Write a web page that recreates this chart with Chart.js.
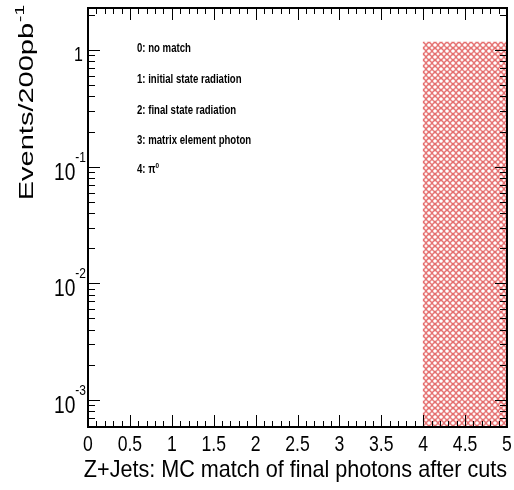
<!DOCTYPE html>
<html>
<head>
<meta charset="utf-8">
<script src="https://cdn.jsdelivr.net/npm/chart.js@4/dist/chart.umd.min.js"></script>
<style>
  html, body { margin: 0; padding: 0; background: #fff; }
</style>
</head>
<body>
<canvas id="histo" width="514" height="490"></canvas>
<script>
// histogram bins (MC match category) and their content
var binLabels = ['0', '1', '2', '3', '4'];
var binCounts = [null, null, null, null, 1.17];

// axis ticks
var xTickLabels = ['0', '0.5', '1', '1.5', '2', '2.5', '3', '3.5', '4', '4.5', '5'];
var yDecades = [-3, -2, -1, 0];

// texts
var legendLines = ['0: no match', '1: initial state radiation', '2: final state radiation', '3: matrix element photon', '4: \u03c0'];
var xTitle = 'Z+Jets: MC match of final photons after cuts';
var yTitle = 'Events/200pb';

var FONT = '"Liberation Sans", Arial, Helvetica, sans-serif';

// ROOT fill style: small red circles
function makeHatch() {
    var c = document.createElement('canvas');
    c.width = 6;
    c.height = 6;
    var g = c.getContext('2d');
    g.strokeStyle = 'rgb(226, 96, 96)';
    g.lineWidth = 1.1;
    g.beginPath();
    g.arc(3, 3, 2.4, 0, Math.PI * 2);
    g.stroke();
    return g.createPattern(c, 'repeat');
}

// draw text squeezed horizontally (the original picture is squeezed)
function squeezedText(ctx, txt, x, y, font, sx, align) {
    ctx.save();
    ctx.font = font;
    ctx.textAlign = align || 'left';
    ctx.translate(x, y);
    ctx.scale(sx, 1);
    ctx.fillText(txt, 0, 0);
    ctx.restore();
}

var rootFrame = {
    id: 'rootFrame',
    afterDraw: function (chart) {
        var ctx = chart.ctx;
        var xs = chart.scales.xv;
        var ys = chart.scales.y;
        var a = chart.chartArea;
        ctx.save();
        ctx.fillStyle = '#000';
        ctx.strokeStyle = '#000';
        ctx.textBaseline = 'alphabetic';

        // ticks on x (bottom and top, pointing inside)
        ctx.lineWidth = 1;
        ctx.beginPath();
        for (var i = 0; i <= 50; i++) {
            var v = i / 10;
            var px = Math.round(xs.getPixelForValue(v)) + 0.5;
            var len = (i % 5 === 0) ? 12 : 6;
            ctx.moveTo(px, a.bottom);
            ctx.lineTo(px, a.bottom - len);
            ctx.moveTo(px, a.top);
            ctx.lineTo(px, a.top + len);
        }
        // ticks on y (log, left and right)
        for (var d = -4; d <= 0; d++) {
            for (var m = 1; m <= 9; m++) {
                var val = m * Math.pow(10, d);
                if (val < ys.min || val > ys.max) continue;
                var py = Math.round(ys.getPixelForValue(val)) + 0.5;
                var l = (m === 1) ? 12 : 7;
                ctx.moveTo(a.left, py);
                ctx.lineTo(a.left + l, py);
                ctx.moveTo(a.right, py);
                ctx.lineTo(a.right - l, py);
            }
        }
        ctx.stroke();

        // frame
        ctx.lineWidth = 2;
        ctx.strokeRect(a.left, a.top, a.right - a.left, a.bottom - a.top);

        // x tick labels
        xTickLabels.forEach(function (t) {
            var px = xs.getPixelForValue(parseFloat(t));
            squeezedText(ctx, t, px, a.bottom + 24, '22px ' + FONT, 0.8, 'center');
        });

        // y tick labels
        yDecades.forEach(function (e) {
            var py = ys.getPixelForValue(Math.pow(10, e));
            if (e === 0) {
                squeezedText(ctx, '1', a.left - 5, py + 11, '20px ' + FONT, 0.8, 'right');
            } else {
                var sup = String(e);
                ctx.font = '15px ' + FONT;
                var sw = ctx.measureText(sup).width * 0.8;
                squeezedText(ctx, sup, a.left - 2, py - 5, '15px ' + FONT, 0.8, 'right');
                squeezedText(ctx, '10', a.left - 2 - sw, py + 13, '24px ' + FONT, 0.8, 'right');
            }
        });

        // x title
        squeezedText(ctx, xTitle, a.right, a.bottom + 50, '24px ' + FONT, 0.9, 'right');

        // y title, rotated
        ctx.save();
        ctx.translate(33, 0);
        ctx.scale(0.72, 1);
        ctx.rotate(-Math.PI / 2);
        ctx.font = '19px ' + FONT;
        var supW = ctx.measureText('-1').width;
        ctx.textAlign = 'right';
        ctx.fillText('-1', -5, -13);
        ctx.font = '29px ' + FONT;
        ctx.fillText(yTitle, -5 - supW - 1, 0);
        ctx.restore();

        // category legend
        var lx = 137;
        var ly = [52, 83, 114, 144, 173];
        legendLines.forEach(function (t, k) {
            squeezedText(ctx, t, lx, ly[k], 'bold 12px ' + FONT, 0.8, 'left');
        });
        // superscript 0 on pi
        ctx.font = 'bold 12px ' + FONT;
        var piW = ctx.measureText(legendLines[4]).width * 0.8;
        squeezedText(ctx, '0', lx + piW, ly[4] - 5, 'bold 8px ' + FONT, 0.8, 'left');

        ctx.restore();
    }
};

var ctx = document.getElementById('histo').getContext('2d');
new Chart(ctx, {
    type: 'bar',
    data: {
        labels: binLabels,
        datasets: [{
            data: binCounts,
            backgroundColor: makeHatch(),
            borderWidth: 0,
            barPercentage: 1.0,
            categoryPercentage: 1.0
        }]
    },
    options: {
        responsive: false,
        animation: false,
        devicePixelRatio: 1,
        layout: { padding: { left: 88, top: 8, right: 7, bottom: 63 } },
        plugins: { legend: { display: false }, tooltip: { enabled: false } },
        scales: {
            x: { type: 'category', offset: true, display: false },
            xv: { type: 'linear', axis: 'x', min: 0, max: 5, offset: false, display: false },
            y: { type: 'logarithmic', min: 5.87e-4, max: 2.29, display: false }
        }
    },
    plugins: [rootFrame]
});
</script>
</body>
</html>
